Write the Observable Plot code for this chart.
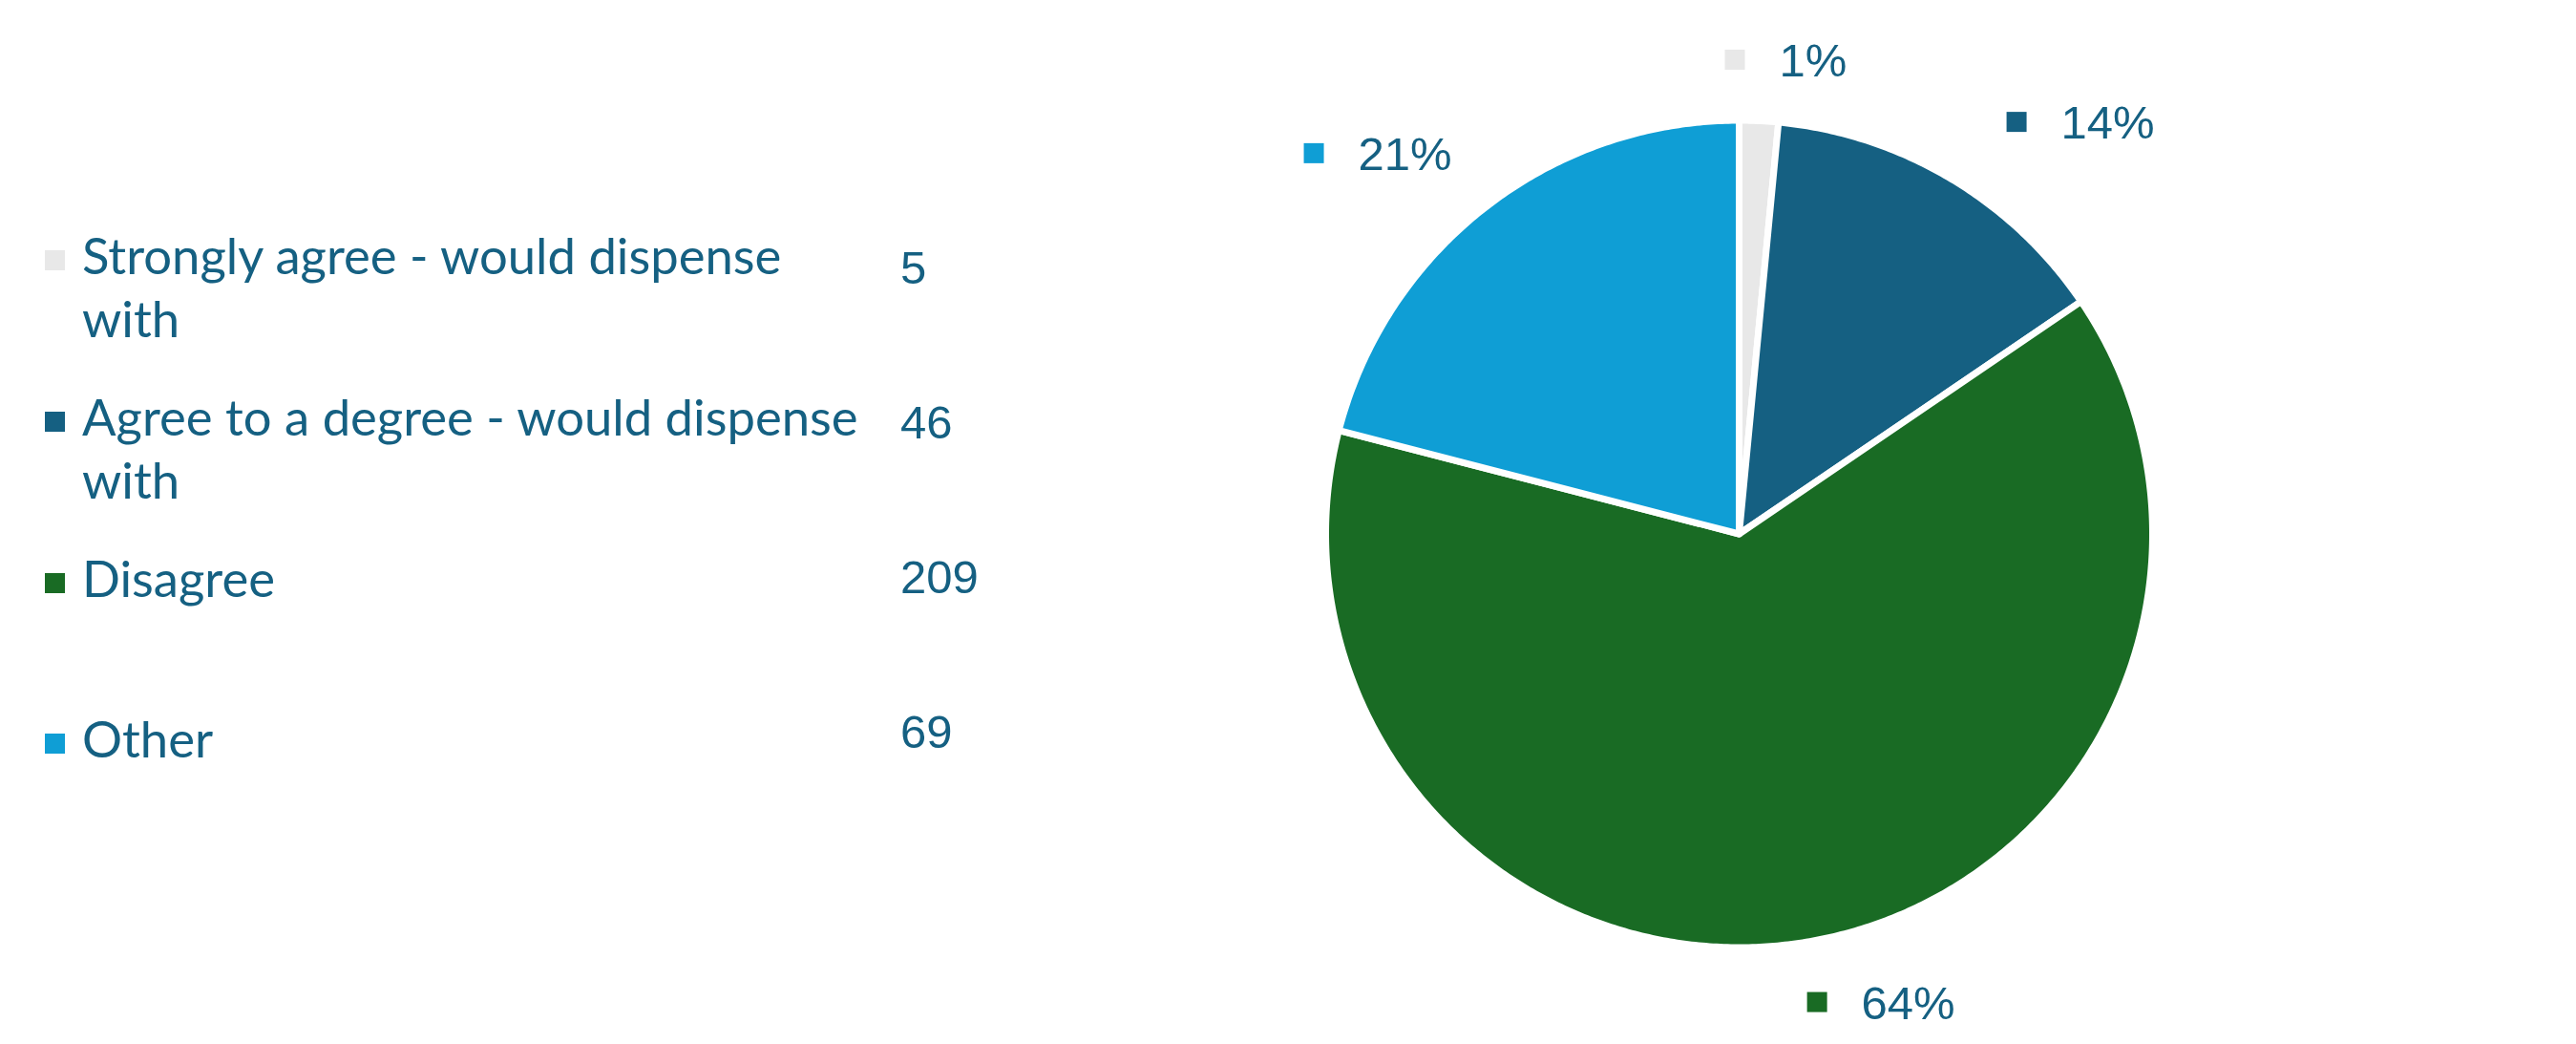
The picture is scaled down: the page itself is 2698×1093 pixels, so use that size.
<!DOCTYPE html>
<html>
<head>
<meta charset="utf-8">
<script src="https://cdn.jsdelivr.net/npm/d3@7"></script>
<script src="https://cdn.jsdelivr.net/npm/@observablehq/plot@0.6"></script>
<style>
  html, body { margin: 0; padding: 0; background: #ffffff; }
  #wrap { display: flex; width: 2698px; height: 1093px; overflow: hidden; }
  #legend { position: relative; width: 1100px; height: 1093px; flex: none; }
  #chart { width: 1598px; height: 1093px; flex: none; }
  .key { position: absolute; left: 47px; width: 21px; height: 21px; }
  .lab { position: absolute; left: 86px; width: 830px; font-family: Lato, "Noto Sans", sans-serif; line-height: 66px; color: #156082; }
  .val { position: absolute; left: 943px; font-family: "Liberation Sans", Arial, sans-serif; font-size: 49px; line-height: 66px; color: #156082; }
</style>
</head>
<body>
<div id="wrap">
  <div id="legend"></div>
  <div id="chart"></div>
</div>
<script>
// ---- data ----
const categories = [
  "Strongly agree - would dispense with",
  "Agree to a degree - would dispense with",
  "Disagree",
  "Other"
];
const counts = [5, 46, 209, 69];
const percentLabels = ["1%", "14%", "64%", "21%"];

// ---- layout constants ----
const W = 1598, H = 1093;
const CX = 721, CY = 558.5;   // pie centre inside the svg (px)
const R = 433;                // pie radius (px)
const LABEL_R = 470;          // radius of label anchor (px)
const palette = ["#E8E8E8", "#156082", "#196B24", "#0F9ED5"];
const textColor = "#156082";
const pctFont = "'Liberation Sans', Arial, sans-serif";
const pctSize = 49;

// ---- measuring helper ----
const canvas = document.createElement("canvas");
const ctx = canvas.getContext("2d");
function measure(text, font) { ctx.font = font; return ctx.measureText(text).width; }

// ---- legend (HTML) ----
const labFamily = "Lato, 'Noto Sans', sans-serif";
const labSize = Math.round(52 * 814 / measure("Agree to a degree - would dispense", "52px " + labFamily) * 10) / 10;
const legend = document.getElementById("legend");
categories.forEach((c, i) => {
  const top = 234 + i * 168.8;
  const key = document.createElement("div");
  key.className = "key";
  key.style.top = (top + 28) + "px";
  key.style.background = palette[i];
  legend.appendChild(key);
  const lab = document.createElement("div");
  lab.className = "lab";
  lab.style.top = top + "px";
  lab.style.fontSize = labSize + "px";
  lab.textContent = c;
  legend.appendChild(lab);
  const val = document.createElement("div");
  val.className = "val";
  val.style.top = (247 + i * 162) + "px";
  val.textContent = String(counts[i]);
  legend.appendChild(val);
});

// ---- pie geometry (unit coords, 1 unit = R px, y up) ----
const arcs = d3.pie().sort(null).value(d => d)(counts);
const wedgePoints = [];
arcs.forEach((a, i) => {
  const cat = categories[i];
  wedgePoints.push({cat, x: 0, y: 0});
  const n = Math.max(2, Math.ceil((a.endAngle - a.startAngle) / (Math.PI / 360)));
  for (let k = 0; k <= n; k++) {
    const t = a.startAngle + (a.endAngle - a.startAngle) * k / n;
    wedgePoints.push({cat, x: Math.sin(t), y: Math.cos(t)});
  }
  wedgePoints.push({cat, x: 0, y: 0});
});

// ---- labels: Excel-like outside placement ----
const GAP = 57;  // marker-left to text-start
const labelData = arcs.map((a, i) => {
  const mid = (a.startAngle + a.endAngle) / 2;
  const s = Math.sin(mid), c = Math.cos(mid);
  const px = LABEL_R * s, py = LABEL_R * c;          // px, y up
  const tw = measure(percentLabels[i], pctSize + "px " + pctFont);
  const w = GAP + tw;
  const f = 0.3 + 2.4 * s + (c < 0 ? 0.17 : 0);
  const left = px + (w / 2) * (f - 1);
  const cy = py + 27 * Math.sign(c);
  return {
    cat: categories[i],
    label: percentLabels[i],
    mx: (left + 10.5) / R,
    tx: (left + GAP) / R,
    y: cy / R
  };
});

const plot = Plot.plot({
  width: W,
  height: H,
  margin: 0,
  x: {domain: [-CX / R, (W - CX) / R], axis: null},
  y: {domain: [-(H - CY) / R, CY / R], axis: null},
  color: {domain: categories, range: palette},
  marks: [
    Plot.line(wedgePoints, {
      x: "x", y: "y", z: "cat", fill: "cat",
      stroke: "#ffffff", strokeWidth: 7, strokeLinejoin: "round", curve: "linear"
    }),
    Plot.dot(labelData, {
      x: "mx", y: "y", fill: "cat", symbol: "square", r: 21 / Math.sqrt(Math.PI), stroke: null
    }),
    Plot.text(labelData, {
      x: "tx", y: "y", text: "label", textAnchor: "start", lineAnchor: "middle",
      fontSize: pctSize, fontFamily: pctFont, fill: textColor, dy: 2
    })
  ]
});
document.getElementById("chart").appendChild(plot);
</script>
</body>
</html>
